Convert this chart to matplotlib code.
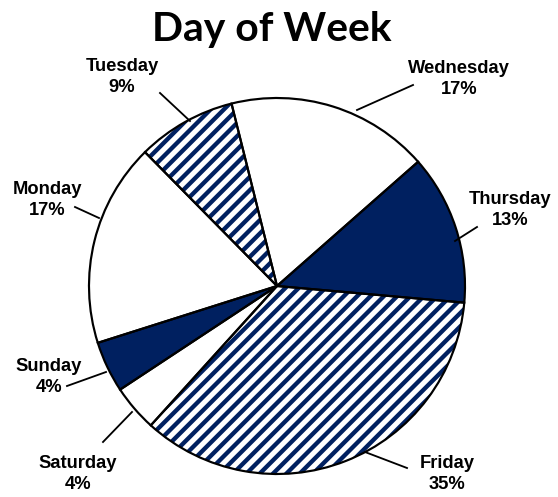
import numpy as np
import matplotlib
matplotlib.use("Agg")
import matplotlib.pyplot as plt

# ---- data ----
days = ["Wednesday", "Thursday", "Friday", "Saturday", "Sunday", "Monday", "Tuesday"]
shares = [17.4, 12.9, 35.3, 4.0, 4.4, 17.5, 8.5]
pct_labels = ["17%", "13%", "35%", "4%", "4%", "17%", "9%"]
styles = ["white", "navy", "hatch", "white", "navy", "white", "hatch"]

# ---- layout (pixels in 558x497 image) ----
label_px = [(459, 79), (510, 210), (447, 474), (78, 474), (49, 377), (47, 200), (122, 77)]
line_start_px = [(413, 85), (477, 227), (407, 468), (103, 442), (67, 386), (75, 207), (160, 93)]
line_end_px = [(357, 110), (455, 241), (365, 452), (132, 412), (106, 372), (99, 218), (190, 121)]

NAVY = "#002060"
DPI = 120
W, H = 558, 497
CX, CY, R = 277, 286, 188

plt.rcParams["hatch.linewidth"] = 2.6
fig = plt.figure(figsize=(W / DPI, H / DPI), dpi=DPI)
fig.patch.set_facecolor("white")
ax = fig.add_axes([(CX - R) / W, (H - CY - R) / H, 2 * R / W, 2 * R / H])

def to_data(p):
    return ((p[0] - CX) / R, (CY - p[1]) / R)

faces = []
hatches = []
for s in styles:
    if s == "navy":
        faces.append(NAVY); hatches.append(None)
    elif s == "hatch":
        faces.append("white"); hatches.append("///")
    else:
        faces.append("white"); hatches.append(None)

wedges, _ = ax.pie(shares, startangle=104, counterclock=False, colors=faces,
                   radius=1.0, wedgeprops=dict(linewidth=0, edgecolor=NAVY))
for w, h in zip(wedges, hatches):
    if h:
        w.set_hatch(h)
        w.set_edgecolor(NAVY)
ax.pie(shares, startangle=104, counterclock=False, radius=1.0,
       wedgeprops=dict(fill=False, linewidth=1.3, edgecolor="black"))

lab_font = dict(family=["Liberation Sans", "DejaVu Sans"],
                fontweight="bold", fontsize=11)
for d, p, lp, s, e in zip(days, pct_labels, label_px, line_start_px, line_end_px):
    x, y = to_data(lp)
    ax.text(x, y, f"{d}\n{p}", ha="center", va="center", linespacing=1.35,
            clip_on=False, **lab_font)
    x0, y0 = to_data(s)
    x1, y1 = to_data(e)
    ax.plot([x0, x1], [y0, y1], color="black", lw=1.1, clip_on=False)

ax.set_xlim(-1, 1)
ax.set_ylim(-1, 1)
ax.set_aspect("equal")
ax.axis("off")

fig.text(272 / W, 1 - 30 / H, "Day of Week", ha="center", va="center",
         family=["Lato", "DejaVu Sans"], fontweight="bold", fontsize=24.5)

fig.savefig("out.png", dpi=DPI, facecolor="white")
